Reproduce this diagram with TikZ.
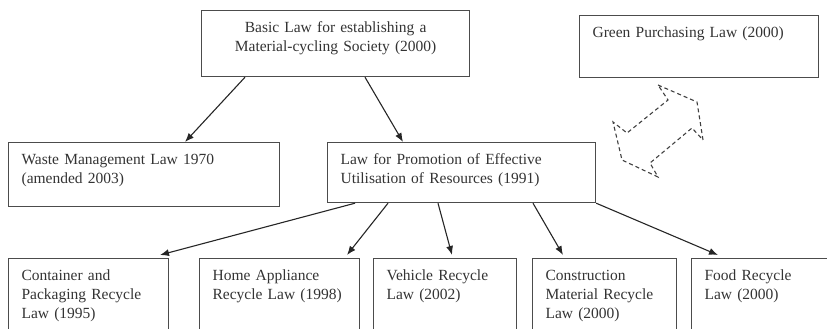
\documentclass[tikz,border=0pt]{standalone}
\usepackage{fontspec}
\setmainfont{Liberation Serif}
\usetikzlibrary{arrows.meta,calc}
\begin{document}
\begin{tikzpicture}[x=1pt,y=-1pt,
  law/.style={draw=black!70,line width=1.2pt,anchor=north west,align=left,inner xsep=13pt,inner ysep=8pt,text height=14pt,font=\fontsize{15.5}{19}\selectfont,text=black!80},
  link/.style={draw=black!85,line width=1.1pt,-{Latex[length=9pt,width=7pt]}}]
\useasboundingbox (0,0) rectangle (827,329);
\clip (0,0) rectangle (827,329);
\node[law,align=center,text width=242pt,text depth=36pt] (basic) at (201,10) {Basic Law for establishing a\\ Material-cycling Society (2000)};
\node[law,text width=213pt,text depth=32pt] (green) at (579,15) {Green Purchasing Law (2000)};
\node[law,text width=245pt,text depth=34pt] (waste) at (8,142) {Waste Management Law 1970\\ (amended 2003)};
\node[law,text width=242pt,text depth=30pt] (promo) at (327,142) {Law for Promotion of Effective\\ Utilisation of Resources (1991)};
\node[law,text width=134pt,text depth=52pt] (contain) at (8,258) {Container and\\ Packaging Recycle\\ Law (1995)};
\node[law,text width=134pt,text depth=52pt] (home) at (199,258) {Home Appliance\\ Recycle Law (1998)};
\node[law,text width=117pt,text depth=52pt] (vehicle) at (373,258) {Vehicle Recycle\\ Law (2002)};
\node[law,text width=118pt,text depth=52pt] (constr) at (532,258) {Construction\\ Material Recycle\\ Law (2000)};
\node[law,text width=123pt,text depth=52pt] (food) at (691,258) {Food Recycle\\ Law (2000)};
\draw[link] ($(basic.south west)+(44,0)$) -- ($(waste.north west)+(177,0)$);
\draw[link] ($(basic.south west)+(164,0)$) -- ($(promo.north west)+(76,0)$);
\draw[link] ($(promo.south west)+(28,0)$) -- ($(contain.north west)+(152,-3)$);
\draw[link] ($(promo.south west)+(61,0)$) -- ($(home.north west)+(148,-3)$);
\draw[link] ($(promo.south west)+(111,0)$) -- ($(vehicle.north west)+(79,-3)$);
\draw[link] ($(promo.south west)+(206,0)$) -- ($(constr.north west)+(31,-3)$);
\draw[link] (promo.south east) -- ($(food.north west)+(27,-3)$);
\draw[black!75,line width=1.1pt,dash pattern=on 4pt off 3pt] (658,85) -- (697,102) -- (703,140) -- (692,128) -- (650,163) -- (658,177) -- (622,160) -- (613,122) -- (627,133) -- (668,100) -- cycle;
\end{tikzpicture}
\end{document}
